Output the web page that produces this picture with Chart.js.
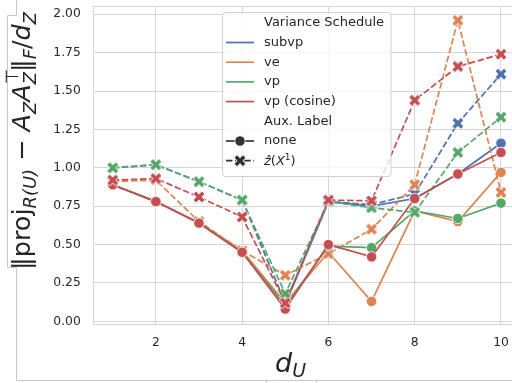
<!DOCTYPE html>
<html>
<head>
<meta charset="utf-8">
<script src="https://cdn.jsdelivr.net/npm/chart.js@4/dist/chart.umd.min.js"></script>
<style>
html, body { margin: 0; padding: 0; background: #fff; overflow: hidden; }
canvas { display: block; }
</style>
</head>
<body>
<canvas id="chart" width="530" height="383"></canvas>
<script>
// values
var dU = [1, 2, 3, 4, 5, 6, 7, 8, 9, 10];
var schedules = ['subvp', 've', 'vp', 'vp (cosine)'];
var auxLabels = ['none', 'ẑ(X¹)'];

var subvpNone = [0.89, 0.78, 0.64, 0.45, 0.11, 0.78, 0.75, 0.80, 0.96, 1.16];
var subvpZ    = [1.00, 1.02, 0.91, 0.79, 0.12, 0.78, 0.76, 0.83, 1.29, 1.61];
var veNone    = [0.89, 0.78, 0.64, 0.46, 0.12, 0.45, 0.13, 0.72, 0.65, 0.97];
var veZ       = [0.91, 0.92, 0.65, 0.46, 0.30, 0.44, 0.60, 0.89, 1.96, 0.84];
var vpNone    = [0.89, 0.78, 0.64, 0.45, 0.10, 0.49, 0.48, 0.72, 0.67, 0.77];
var vpZ       = [1.00, 1.02, 0.91, 0.79, 0.18, 0.78, 0.74, 0.71, 1.10, 1.33];
var cosNone   = [0.89, 0.78, 0.64, 0.45, 0.08, 0.50, 0.42, 0.80, 0.96, 1.10];
var cosZ      = [0.92, 0.93, 0.81, 0.68, 0.12, 0.79, 0.785, 1.44, 1.66, 1.74];

var xTicks = [2, 4, 6, 8, 10];
var yTicks = [0, 0.25, 0.5, 0.75, 1.0, 1.25, 1.5, 1.75, 2.0];

var colors = ['#4C72B0', '#DD8452', '#55A868', '#C44E52'];
var FONT = '"DejaVu Sans", sans-serif';
var TXT = '#262626';

// filled X marker like matplotlib 'X'
function xMarker(color, s) {
    var c = document.createElement('canvas');
    c.width = 18; c.height = 18;
    var g = c.getContext('2d');
    var pts = [[-1,-3],[1,-3],[1,-1],[3,-1],[3,1],[1,1],[1,3],[-1,3],[-1,1],[-3,1],[-3,-1],[-1,-1]];
    g.translate(9, 9);
    g.beginPath();
    pts.forEach(function(p, i) {
        var x = p[0] / 6 * s, y = p[1] / 6 * s;
        var rx = (x - y) / Math.SQRT2, ry = (x + y) / Math.SQRT2;
        if (i == 0) g.moveTo(rx, ry); else g.lineTo(rx, ry);
    });
    g.closePath();
    g.fillStyle = color;
    g.fill();
    g.strokeStyle = '#fff';
    g.lineWidth = 0.9;
    g.stroke();
    return c;
}

function pts(arr) {
    return dU.map(function(x, i) { return {x: x, y: arr[i]}; });
}

var series = [
    [subvpNone, 0, 0], [subvpZ, 0, 1],
    [veNone, 1, 0], [veZ, 1, 1],
    [vpNone, 2, 0], [vpZ, 2, 1],
    [cosNone, 3, 0], [cosZ, 3, 1]
];

var datasets = series.map(function(s, i) {
    var col = colors[s[1]];
    var dashed = s[2] == 1;
    return {
        label: schedules[s[1]] + ' / ' + auxLabels[s[2]],
        data: pts(s[0]),
        borderColor: col,
        backgroundColor: col,
        borderWidth: 1.7,
        borderDash: dashed ? [6.5, 2.6] : [],
        pointStyle: dashed ? xMarker(col, 12.5) : 'circle',
        pointRadius: dashed ? 6 : 5.2,
        pointBorderColor: '#fff',
        pointBorderWidth: dashed ? 0 : 0.8,
        pointBackgroundColor: col,
        tension: 0,
        fill: false,
        order: series.length - i
    };
});

// draw a line of mixed text runs (sub/superscripts)
function runWidth(ctx, runs, S) {
    var w = 0;
    runs.forEach(function(r) {
        ctx.font = (r.it ? 'italic ' : '') + (S * (r.s || 1)) + 'px ' + FONT;
        if (!r.keep) w += ctx.measureText(r.t).width;
    });
    return w;
}
function drawRuns(ctx, runs, x, y, S) {
    runs.forEach(function(r) {
        ctx.font = (r.it ? 'italic ' : '') + (S * (r.s || 1)) + 'px ' + FONT;
        ctx.fillText(r.t, x, y + (r.dy || 0) * S);
        if (!r.keep) x += ctx.measureText(r.t).width;
    });
}

var yRuns = [
    {t: '‖'}, {t: 'proj'}, {t: 'R(U)', s: 0.7, it: 1, dy: 0.22},
    {t: ' − '}, {t: 'A', it: 1}, {t: 'Z', s: 0.7, it: 1, dy: 0.22},
    {t: 'A', it: 1}, {t: '⊤', s: 0.7, dy: -0.48, keep: 1}, {t: 'Z', s: 0.7, it: 1, dy: 0.22},
    {t: '‖'}, {t: 'F', s: 0.7, it: 1, dy: 0.22}, {t: '/'}, {t: 'd', it: 1},
    {t: 'Z', s: 0.7, it: 1, dy: 0.22}
];

var decor = {
    id: 'decor',
    beforeDatasetsDraw: function(chart) {
        var ctx = chart.ctx, a = chart.chartArea;
        ctx.save();
        ctx.strokeStyle = '#d6d6d6';
        ctx.lineWidth = 1;
        ctx.strokeRect(Math.round(a.left) + 0.5, Math.round(a.top) + 0.5,
            Math.round(a.right - a.left), Math.round(a.bottom - a.top));
        ctx.restore();
    },
    afterDraw: function(chart) {
        var ctx = chart.ctx;
        ctx.save();
        // stray frame lines around the figure
        ctx.strokeStyle = '#c8c8c8';
        ctx.lineWidth = 1;
        ctx.beginPath();
        ctx.moveTo(16.5, 0); ctx.lineTo(16.5, 15.5); ctx.lineTo(7.5, 15.5);
        ctx.lineTo(7.5, 267.5); ctx.lineTo(16.5, 267.5); ctx.lineTo(16.5, 380.5);
        ctx.lineTo(530, 380.5);
        ctx.moveTo(266.5, 380.5); ctx.lineTo(266.5, 383);
        ctx.moveTo(316.5, 380.5); ctx.lineTo(316.5, 383);
        ctx.stroke();

        // y axis title
        ctx.fillStyle = TXT;
        ctx.textBaseline = 'alphabetic';
        ctx.textAlign = 'left';
        var S = 24;
        var w = runWidth(ctx, yRuns, S);
        S = S * 258 / w;
        w = runWidth(ctx, yRuns, S);
        ctx.save();
        ctx.translate(30, 141 + w / 2);
        ctx.rotate(-Math.PI / 2);
        drawRuns(ctx, yRuns, 0, 0, S);
        ctx.restore();

        // x axis title
        drawRuns(ctx, [{t: 'd', it: 1}, {t: 'U', s: 0.7, it: 1, dy: 0.2}], 275, 372, 27);

        // legend
        var lx = 222.5, ly = 12.5, lw = 168.5, lh = 164;
        ctx.beginPath();
        ctx.roundRect(lx, ly, lw, lh, 3);
        ctx.fillStyle = 'rgba(255,255,255,0.8)';
        ctx.fill();
        ctx.strokeStyle = '#d0d0d0';
        ctx.stroke();

        var rows = ['Variance Schedule'].concat(schedules, ['Aux. Label'], auxLabels);
        var tx = 264, y0 = 22.8, dy = 19.7;
        ctx.textBaseline = 'middle';
        rows.forEach(function(r, i) {
            var cy = y0 + i * dy;
            ctx.fillStyle = TXT;
            if (i == 7) {
                drawRuns(ctx, [{t: 'ẑ', it: 1}, {t: '('}, {t: 'X', it: 1},
                    {t: '1', s: 0.7, dy: -0.35}, {t: ')'}], tx, cy + 1, 13);
            } else {
                ctx.font = '13px ' + FONT;
                ctx.fillText(r, tx, cy);
            }
            var col = null, mk = null, dash = [];
            if (i >= 1 && i <= 4) col = colors[i - 1];
            if (i == 6) { col = '#333'; mk = 'o'; }
            if (i == 7) { col = '#333'; mk = 'x'; dash = [6.5, 2.6]; }
            if (col) {
                ctx.strokeStyle = col;
                ctx.lineWidth = 1.7;
                ctx.setLineDash(dash);
                ctx.beginPath();
                ctx.moveTo(226, cy); ctx.lineTo(254, cy);
                ctx.stroke();
                ctx.setLineDash([]);
                if (mk == 'o') {
                    ctx.beginPath();
                    ctx.arc(240, cy, 5.2, 0, Math.PI * 2);
                    ctx.fillStyle = col; ctx.fill();
                    ctx.strokeStyle = '#fff'; ctx.lineWidth = 0.8; ctx.stroke();
                }
                if (mk == 'x') {
                    var m = xMarker(col, 12.5);
                    ctx.drawImage(m, 240 - 9, cy - 9);
                }
            }
        });
        ctx.restore();
    }
};

new Chart(document.getElementById('chart'), {
    type: 'line',
    data: { datasets: datasets },
    options: {
        responsive: false,
        animation: false,
        devicePixelRatio: 1,
        layout: { padding: { left: 0, top: 5, right: 9.6, bottom: 0 } },
        plugins: { legend: { display: false }, tooltip: { enabled: false } },
        scales: {
            x: {
                type: 'linear',
                min: 0.55, max: 10.45,
                afterBuildTicks: function(s) { s.ticks = xTicks.map(function(v) { return {value: v}; }); },
                afterFit: function(s) { s.height = 383 - 323.5; s.paddingLeft = 0; s.paddingRight = 0; },
                grid: { color: '#d6d6d6', lineWidth: 1, drawTicks: false },
                border: { display: false },
                ticks: { color: TXT, padding: 12, font: { family: 'DejaVu Sans', size: 12.3 },
                    maxRotation: 0, callback: function(v) { return String(v); } }
            },
            y: {
                type: 'linear',
                min: -0.014, max: 2.054,
                afterBuildTicks: function(s) { s.ticks = yTicks.map(function(v) { return {value: v}; }); },
                afterFit: function(s) { s.width = 93.3; s.paddingTop = 0; s.paddingBottom = 0; },
                grid: { color: '#d6d6d6', lineWidth: 1, drawTicks: false },
                border: { display: false },
                ticks: { color: TXT, padding: 12.6, font: { family: 'DejaVu Sans', size: 12.3 },
                    callback: function(v) { return v.toFixed(2); } }
            }
        }
    },
    plugins: [decor]
});
</script>
</body>
</html>
